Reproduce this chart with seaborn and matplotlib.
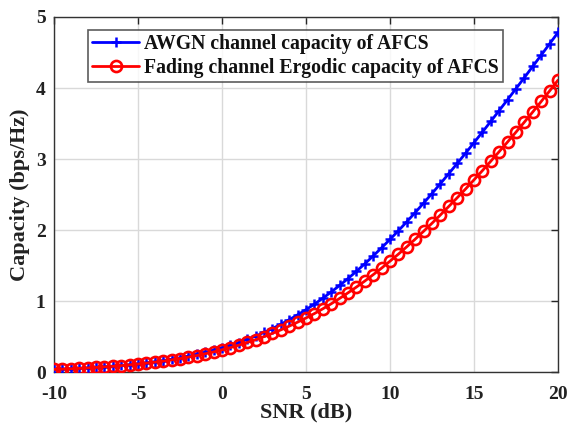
import numpy as np
import pandas as pd
import matplotlib
matplotlib.use("Agg")
import matplotlib.pyplot as plt
import seaborn as sns

snr_db = [-10, -9.5, -9, -8.5, -8, -7.5, -7, -6.5, -6, -5.5, -5, -4.5, -4, -3.5, -3, -2.5,
          -2, -1.5, -1, -0.5, 0, 0.5, 1, 1.5, 2, 2.5, 3, 3.5, 4, 4.5, 5, 5.5, 6, 6.5, 7,
          7.5, 8, 8.5, 9, 9.5, 10, 10.5, 11, 11.5, 12, 12.5, 13, 13.5, 14, 14.5, 15, 15.5,
          16, 16.5, 17, 17.5, 18, 18.5, 19, 19.5, 20]

awgn_capacity = [0.038, 0.042, 0.047, 0.053, 0.059, 0.066, 0.074, 0.083, 0.093, 0.104,
                 0.116, 0.130, 0.145, 0.161, 0.180, 0.200, 0.223, 0.248, 0.276, 0.306,
                 0.339, 0.376, 0.415, 0.459, 0.506, 0.557, 0.612, 0.672, 0.736, 0.805,
                 0.878, 0.956, 1.039, 1.127, 1.219, 1.316, 1.418, 1.524, 1.635, 1.749,
                 1.868, 1.990, 2.116, 2.246, 2.379, 2.514, 2.653, 2.794, 2.937, 3.082,
                 3.230, 3.379, 3.530, 3.683, 3.836, 3.991, 4.147, 4.305, 4.463, 4.622,
                 4.782]

fading_capacity = [0.037, 0.041, 0.046, 0.051, 0.057, 0.064, 0.072, 0.080, 0.090, 0.100,
                   0.112, 0.125, 0.139, 0.153, 0.171, 0.189, 0.210, 0.232, 0.257, 0.283,
                   0.312, 0.344, 0.378, 0.416, 0.455, 0.498, 0.544, 0.593, 0.646, 0.702,
                   0.761, 0.823, 0.890, 0.961, 1.036, 1.115, 1.196, 1.281, 1.371, 1.463,
                   1.561, 1.660, 1.764, 1.871, 1.982, 2.095, 2.212, 2.332, 2.454, 2.578,
                   2.706, 2.836, 2.969, 3.104, 3.240, 3.379, 3.520, 3.663, 3.810, 3.958,
                   4.110]

series_names = ["AWGN channel capacity of AFCS",
                "Fading channel Ergodic capacity of AFCS"]
x_ticks = [-10, -5, 0, 5, 10, 15, 20]
y_ticks = [0, 1, 2, 3, 4, 5]

sns.set_style("white")
plt.rcParams['font.family'] = ['Liberation Serif', 'DejaVu Serif']
plt.rcParams['font.weight'] = 'bold'

df_awgn = pd.DataFrame({"snr": snr_db, "cap": awgn_capacity})
df_fad = pd.DataFrame({"snr": snr_db, "cap": fading_capacity})

fig = plt.figure(figsize=(5.72, 4.25), dpi=100)
ax = fig.add_axes([0.0944, 0.1247, 0.8811, 0.8353])

sns.lineplot(data=df_awgn, x="snr", y="cap", ax=ax, color=(0, 0, 1), linewidth=2.0,
             marker="+", markersize=7.5, markeredgewidth=1.8, markeredgecolor=(0, 0, 1),
             label=series_names[0], zorder=3)
sns.lineplot(data=df_fad, x="snr", y="cap", ax=ax, color=(1, 0, 0), linewidth=2.0,
             marker="o", markersize=8, markerfacecolor="none", markeredgewidth=1.9,
             markeredgecolor=(1, 0, 0), label=series_names[1], zorder=4)

ax.set_xlim(-10, 20)
ax.set_ylim(0, 5)
ax.set_xticks(x_ticks)
ax.set_yticks(y_ticks)
ax.set_xticklabels([str(t) for t in x_ticks], fontsize=14, fontweight='bold')
ax.set_yticklabels([str(t) for t in y_ticks], fontsize=14, fontweight='bold')
ax.grid(True, color=(0.85, 0.85, 0.85), linewidth=1.0)
ax.set_axisbelow(True)
ax.tick_params(direction='in', length=5, width=1.0, top=True, right=True,
               colors=(0.15, 0.15, 0.15), labelcolor='#222222')
ax.tick_params(axis='x', pad=10)
ax.tick_params(axis='y', pad=6)
for s in ax.spines.values():
    s.set_color((0.2, 0.2, 0.2))
    s.set_linewidth(1.0)

ax.set_xlabel("SNR (dB)", fontsize=16, fontweight='bold', color='#222222', labelpad=0)
ax.set_ylabel("Capacity (bps/Hz)", fontsize=16, fontweight='bold', color='#222222', labelpad=4)

leg = ax.legend(loc="upper left", bbox_to_anchor=(0.0675, 0.963),
                frameon=True, fancybox=False, edgecolor=(0.2, 0.2, 0.2),
                handlelength=2.4, handletextpad=0.25, borderpad=0.2, labelspacing=0.2,
                borderaxespad=0.0, prop={'weight': 'bold', 'size': 14.2})
leg.get_frame().set_linewidth(1.2)
for t in leg.get_texts():
    t.set_color('#111111')

fig.savefig("out.png", dpi=100, facecolor="white")
